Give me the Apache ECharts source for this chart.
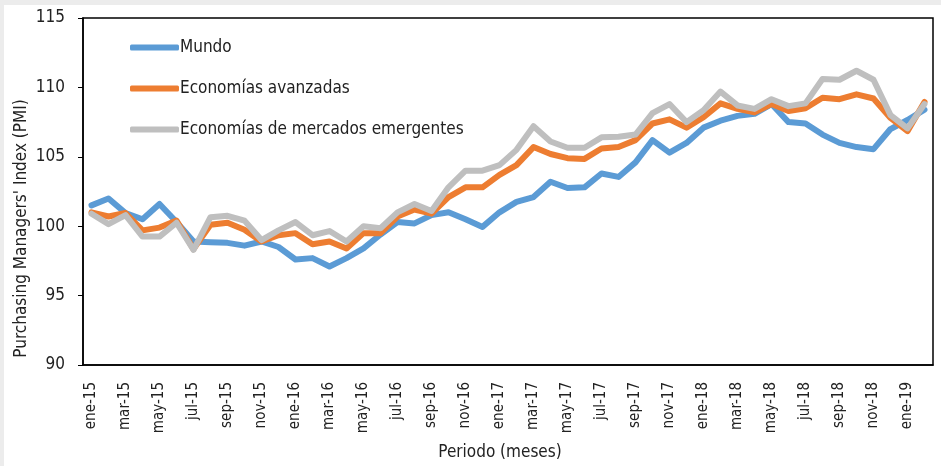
<!DOCTYPE html>
<html><head><meta charset="utf-8">
<script src="https://cdn.jsdelivr.net/npm/echarts@6/dist/echarts.min.js"></script>
<style>
html,body{margin:0;padding:0;background:#ececec;width:941px;height:466px;overflow:hidden}
#c{position:absolute;left:4px;top:5px;width:937px;height:461px;background:#fff}
</style></head><body>
<div id="c"></div>
<script>
const categories = [
 'ene-15','feb-15','mar-15','abr-15','may-15','jun-15','jul-15','ago-15','sep-15','oct-15','nov-15','dic-15',
 'ene-16','feb-16','mar-16','abr-16','may-16','jun-16','jul-16','ago-16','sep-16','oct-16','nov-16','dic-16',
 'ene-17','feb-17','mar-17','abr-17','may-17','jun-17','jul-17','ago-17','sep-17','oct-17','nov-17','dic-17',
 'ene-18','feb-18','mar-18','abr-18','may-18','jun-18','jul-18','ago-18','sep-18','oct-18','nov-18','dic-18',
 'ene-19','feb-19'];
const mundo = [101.5,102.0,100.95,100.5,101.6,100.3,98.9,98.85,98.8,98.6,98.9,98.5,
 97.6,97.7,97.1,97.7,98.4,99.4,100.3,100.2,100.8,101.0,100.5,99.95,
 101.0,101.75,102.1,103.2,102.75,102.8,103.8,103.55,104.6,106.2,105.3,106.0,
 107.1,107.6,107.95,108.1,108.8,107.5,107.4,106.6,106.0,105.7,105.55,107.0,
 107.65,108.4];
const avanzadas = [101.0,100.7,100.95,99.7,99.9,100.4,98.35,100.1,100.25,99.75,98.9,99.35,
 99.5,98.7,98.9,98.4,99.5,99.5,100.7,101.2,100.9,102.1,102.8,102.8,
 103.7,104.4,105.7,105.2,104.9,104.85,105.6,105.7,106.2,107.4,107.7,107.1,
 107.85,108.85,108.45,108.2,108.8,108.3,108.5,109.25,109.15,109.5,109.2,107.8,
 106.85,108.95];
const emergentes = [100.9,100.15,100.8,99.25,99.25,100.25,98.3,100.65,100.75,100.4,99.0,99.7,
 100.3,99.35,99.65,98.9,100.0,99.85,101.0,101.6,101.1,102.8,104.0,104.0,
 104.4,105.5,107.2,106.1,105.65,105.65,106.4,106.45,106.6,108.15,108.8,107.5,
 108.35,109.7,108.7,108.45,109.15,108.65,108.85,110.6,110.55,111.2,110.55,108.0,
 107.05,108.8];
const seriesNames = ['Mundo','Economías avanzadas','Economías de mercados emergentes'];
const colors = ['#5B9BD5','#ED7D31','#BFBFBF'];
const yTicks = {min:90, max:115, interval:5};

const FONT = '"Liberation Sans Narrow","DejaVu Sans Condensed","Roboto",sans-serif';
const chart = echarts.init(document.getElementById('c'), null, {renderer:'canvas'});
const mk = (name, data, color) => ({
  name, type:'line', data, symbol:'none', smooth:false,
  lineStyle:{width:6, color, cap:'round', join:'round'}, itemStyle:{color},
  emphasis:{disabled:true}, animation:false
});
chart.setOption({
  animation:false,
  textStyle:{fontFamily:FONT},
  grid:{left:79, right:8, top:13, bottom:101, show:true, borderColor:'#000', borderWidth:1.5,
        containLabel:false, outerBoundsMode:'none'},
  legend:{
    orient:'vertical', left:121, top:29, itemGap:24, itemWidth:49, itemHeight:6,
    icon:'roundRect', data:seriesNames,
    textStyle:{fontFamily:FONT, fontSize:17, color:'#222', padding:[0,0,0,-4]}
  },
  xAxis:{
    type:'category', data:categories, boundaryGap:true,
    axisLine:{lineStyle:{color:'#000', width:1.5}},
    axisTick:{show:false},
    axisLabel:{interval:1, rotate:90, margin:17, fontSize:15, color:'#222', fontFamily:FONT},
    name:'Periodo (meses)', nameLocation:'middle', nameGap:79, nameMoveOverlap:false,
    nameTextStyle:{fontSize:17, color:'#222', fontFamily:FONT, padding:[0,16,0,0]}
  },
  yAxis:{
    type:'value', min:yTicks.min, max:yTicks.max, interval:yTicks.interval,
    axisLine:{show:true, lineStyle:{color:'#000', width:1.5}},
    axisTick:{show:true, inside:false, length:5, lineStyle:{color:'#000'}},
    splitLine:{show:false},
    axisLabel:{margin:18, fontSize:17, color:'#222', fontFamily:FONT},
    name:"Purchasing Managers' Index (PMI)", nameLocation:'middle', nameGap:53, nameMoveOverlap:false,
    nameTextStyle:{fontSize:17, color:'#222', fontFamily:FONT, padding:[0,74,0,0]}
  },
  series:[mk(seriesNames[0], mundo, colors[0]), mk(seriesNames[1], avanzadas, colors[1]), mk(seriesNames[2], emergentes, colors[2])]
});
</script></body></html>
